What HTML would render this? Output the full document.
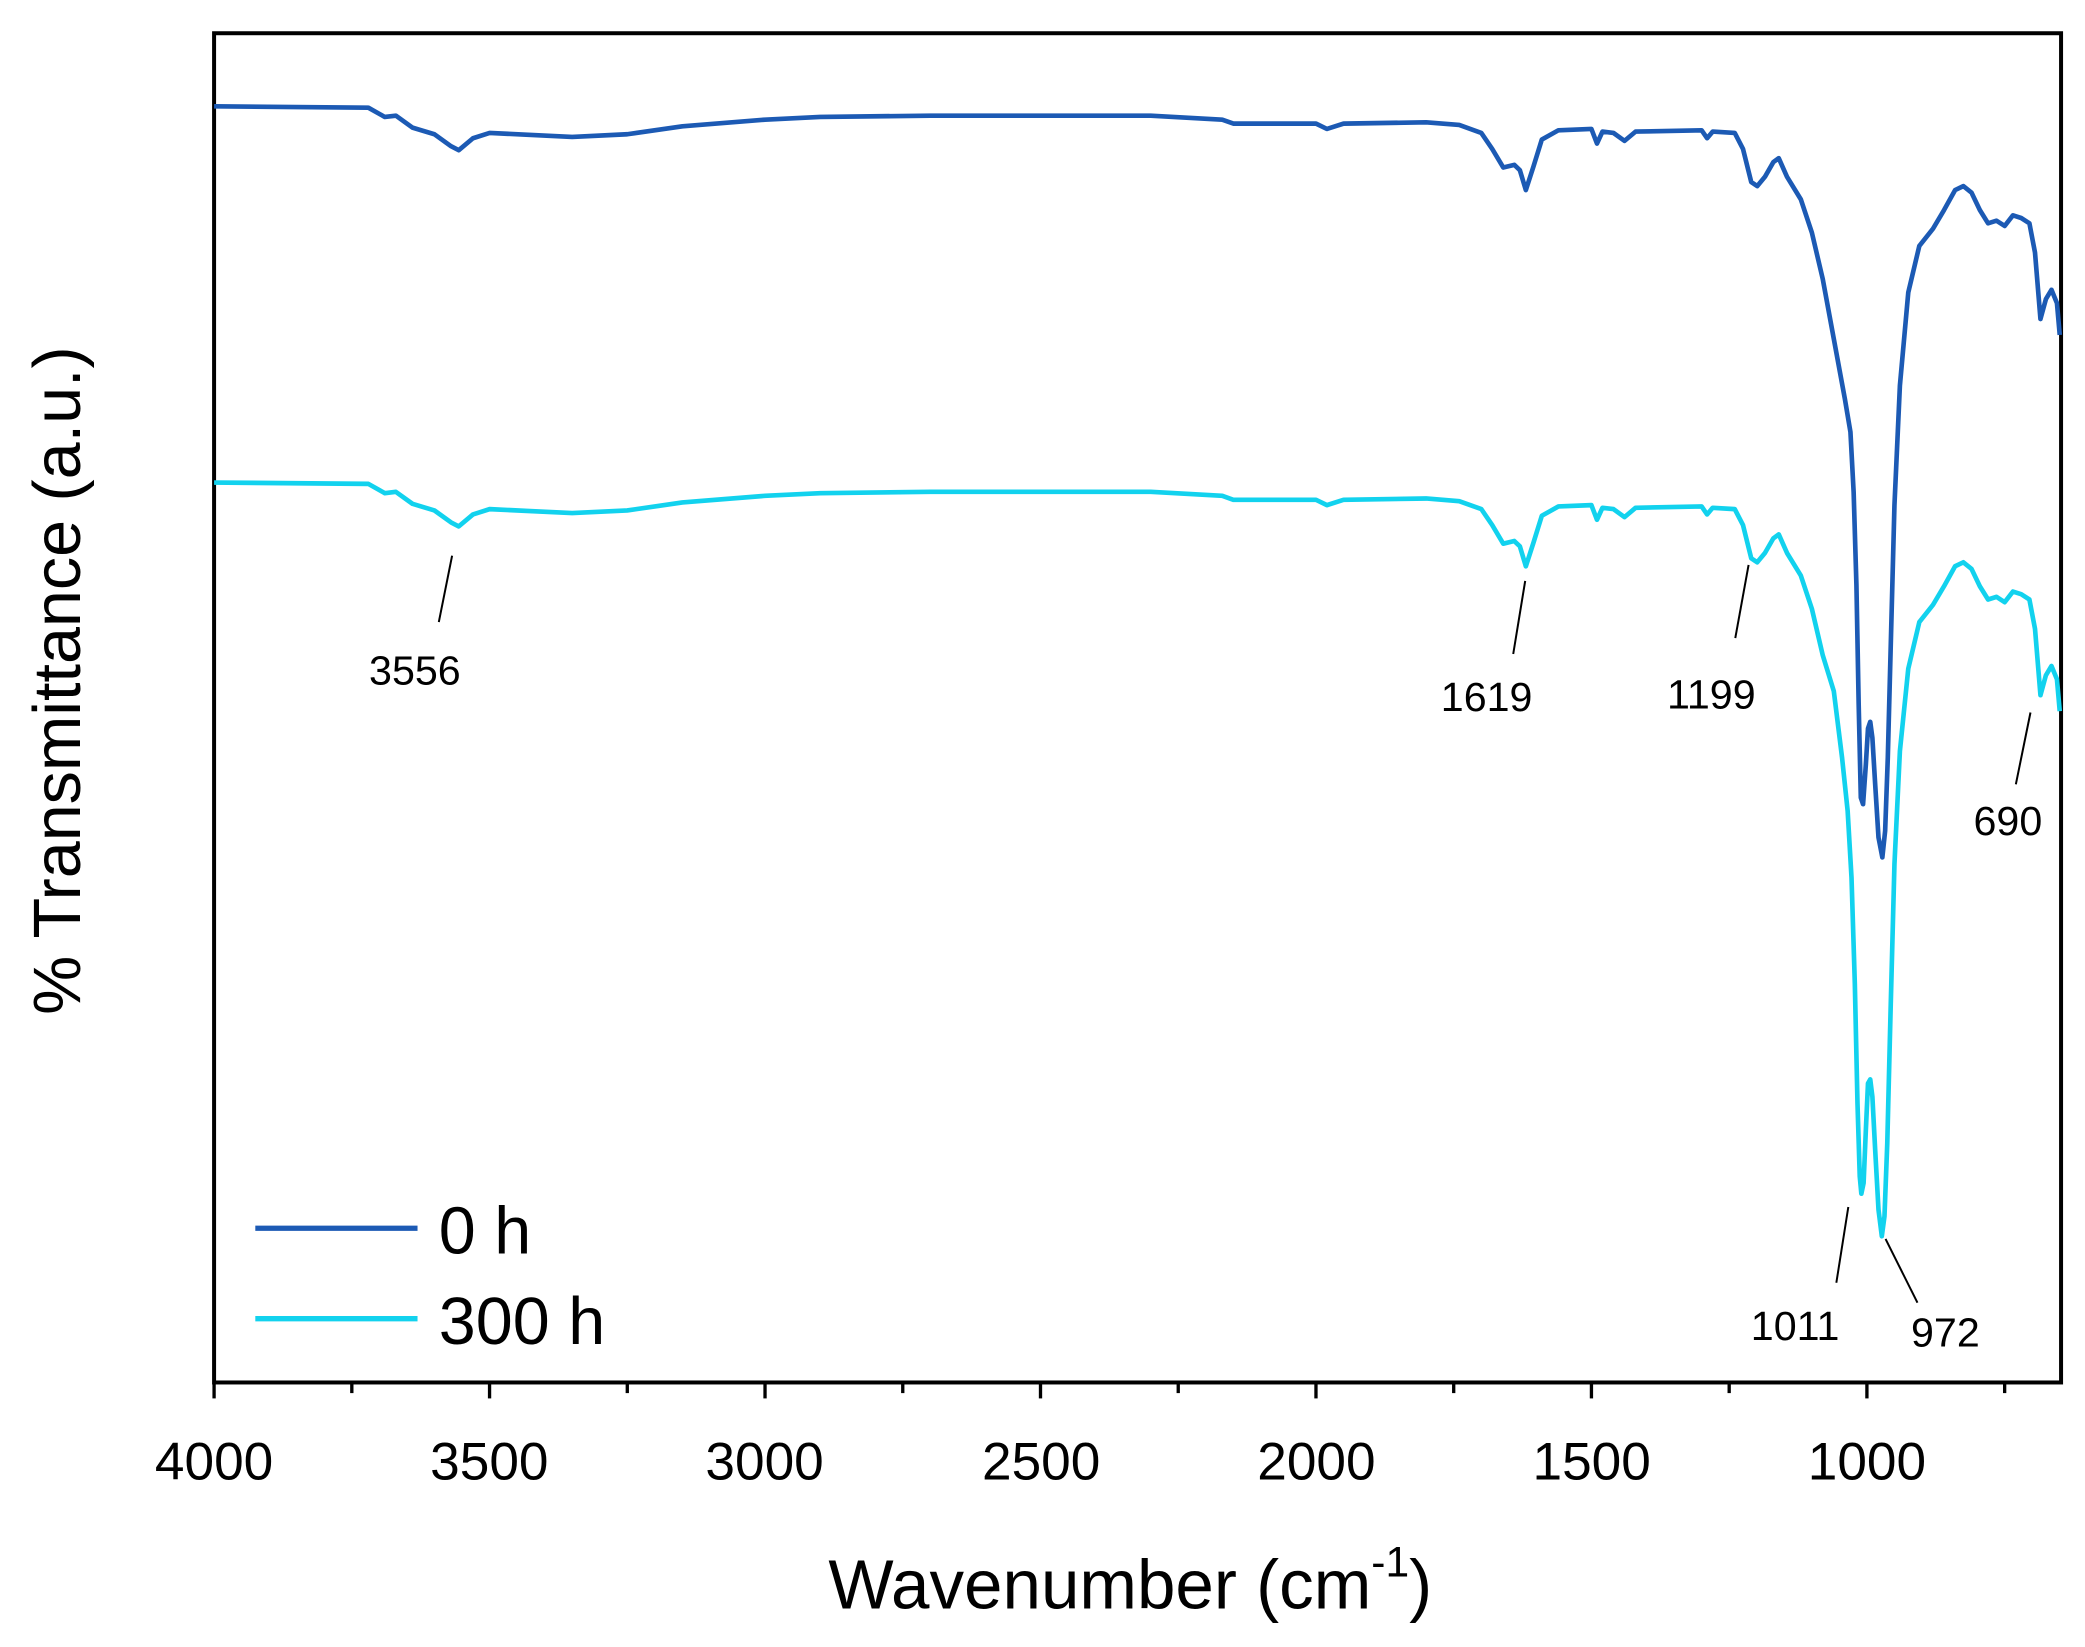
<!DOCTYPE html>
<html><head><meta charset="utf-8"><style>
html,body{margin:0;padding:0;background:#fff;}
svg{display:block;}
text{font-family:"Liberation Sans",Arial,sans-serif;fill:#000;}
</style></head><body>
<svg id="s" width="2085" height="1647" viewBox="0 0 1568 1239" preserveAspectRatio="none" xmlns="http://www.w3.org/2000/svg">
<rect x="161" y="25" width="1389" height="1015" fill="none" stroke="#000" stroke-width="3"/>
<g id="ticks" stroke="#000" stroke-width="2.5"></g>
<g font-size="40" text-anchor="middle">
<text x="161" y="1113">4000</text><text x="368" y="1113">3500</text><text x="575" y="1113">3000</text>
<text x="783" y="1113">2500</text><text x="990" y="1113">2000</text><text x="1197" y="1113">1500</text>
<text x="1404" y="1113">1000</text>
</g>
<text x="850" y="1210" font-size="52" text-anchor="middle">Wavenumber (cm<tspan font-size="32" dy="-24">-1</tspan><tspan dy="24">)</tspan></text>
<text transform="translate(60,512) rotate(-90)" font-size="50" text-anchor="middle">% Transmittance (a.u.)</text>
<path id="p1" fill="none" stroke="#1c5ab4" stroke-width="3.5" stroke-linejoin="round"/>
<path id="p2" fill="none" stroke="#12d2ee" stroke-width="3.5" stroke-linejoin="round"/>
<g stroke="#000" stroke-width="1.5">
<line x1="340" y1="418" x2="330" y2="468"/><line x1="1147" y1="437" x2="1138" y2="492"/>
<line x1="1315" y1="425" x2="1305" y2="480"/><line x1="1527" y1="536" x2="1516" y2="590"/>
<line x1="1390" y1="908" x2="1381" y2="965"/><line x1="1418" y1="932" x2="1442" y2="980"/>
</g>
<g font-size="31" text-anchor="middle">
<text x="312" y="515">3556</text><text x="1118" y="535">1619</text><text x="1287" y="533">1199</text>
<text x="1510" y="628">690</text><text x="1350" y="1008">1011</text><text x="1463" y="1013">972</text>
</g>
<line x1="192" y1="924" x2="314" y2="924" stroke="#1c5ab4" stroke-width="4"/>
<line x1="192" y1="992" x2="314" y2="992" stroke="#12d2ee" stroke-width="4"/>
<text x="330" y="943" font-size="50">0 h</text>
<text x="330" y="1011" font-size="50">300 h</text>
</svg>
<script>
function X(w){return 161+(4000-w)*0.41433;}
var t=document.getElementById('ticks'),h='';
for(var w=4000;w>=650;w-=250){var x=X(w),L=(w%500==0)?12:8;h+='<line x1="'+x+'" y1="1040" x2="'+x+'" y2="'+(1040+L)+'"/>';}
t.innerHTML=h;
var d1=[[4000,80],[3720,81],[3690,88],[3670,87],[3640,96],[3600,101],[3570,110],[3556,113],[3530,104],[3500,100],[3350,103],[3250,101],[3150,95],[3000,90],[2900,88],[2700,87],[2300,87],[2170,90],[2150,93],[2000,93],[1980,97],[1950,93],[1800,92],[1740,94],[1700,100],[1680,112],[1660,126],[1640,124],[1630,128],[1619,143],[1605,125],[1590,105],[1560,98],[1500,97],[1490,108],[1480,99],[1460,100],[1440,106],[1420,99],[1300,98],[1290,104],[1280,99],[1240,100],[1225,112],[1210,137],[1199,140],[1185,133],[1170,122],[1160,119],[1145,133],[1120,150],[1100,175],[1080,210],[1060,255],[1040,300],[1030,325],[1024,370],[1019,440],[1015,530],[1011,600],[1007,605],[1002,575],[998,548],[994,543],[990,555],[985,590],[979,630],[972,645],[967,625],[962,570],[957,490],[950,380],[940,290],[925,220],[905,185],[880,172],[860,158],[840,143],[825,140],[810,145],[795,158],[780,168],[765,166],[750,170],[735,162],[720,164],[705,168],[695,190],[685,240],[675,225],[665,218],[655,228],[650,252]];
function mk(d){var s='';for(var i=0;i<d.length;i++){s+=(i?'L':'M')+X(d[i][0]).toFixed(1)+' '+d[i][1].toFixed(1);}return s;}
document.getElementById('p1').setAttribute('d',mk(d1));
var d2=d1.map(function(p){return [p[0],p[1]+283];});
var deep=[[1060,520],[1045,570],[1035,610],[1028,660],[1022,740],[1017,830],[1013,885],[1010,898],[1006,890],[1002,850],[998,815],[994,812],[990,825],[985,865],[979,910],[973,930],[968,915],[963,860],[957,760],[950,650],[940,565]];
d2=d2.filter(function(p){return p[0]>1060||p[0]<940;});
var out=d2.concat(deep);
out.sort(function(a,b){return b[0]-a[0];});
document.getElementById('p2').setAttribute('d',mk(out));
</script>
</body></html>
